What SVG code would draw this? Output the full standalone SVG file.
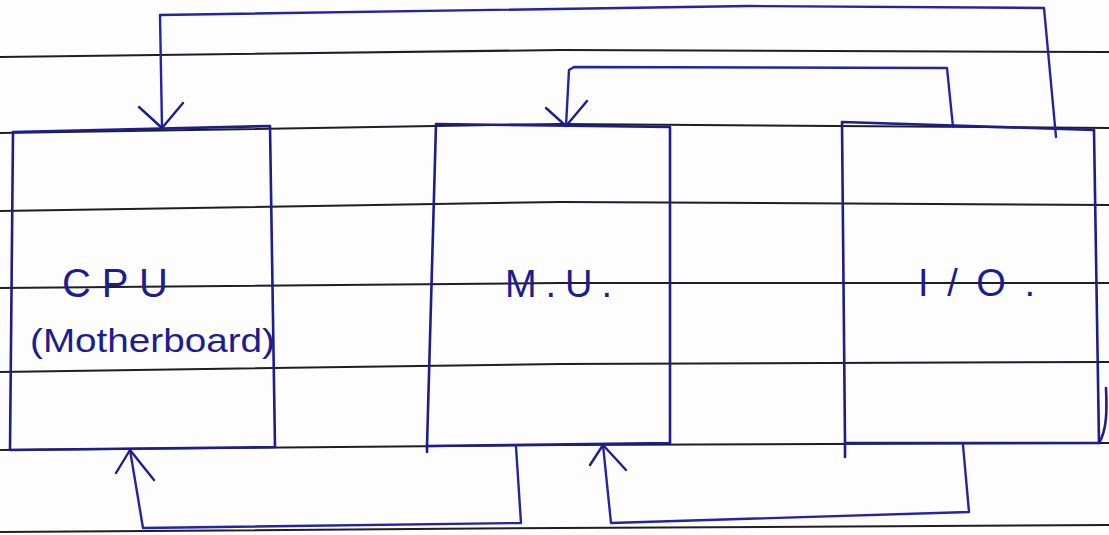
<svg xmlns="http://www.w3.org/2000/svg" width="1109" height="535" viewBox="0 0 1109 535">
<style>
.rule{fill:none;stroke:#1e1e24;stroke-width:2}
.box{fill:none;stroke:#1d1d8f;stroke-width:2.6;stroke-linejoin:round;stroke-linecap:round}
.wire{fill:none;stroke:#2323a6;stroke-width:2.4;stroke-linejoin:round;stroke-linecap:round}
.head{fill:none;stroke:#1d1d8f;stroke-width:2.4;stroke-linecap:round;stroke-linejoin:round}
.lbl{fill:#1d1d8f;font-family:"Liberation Sans",Arial,sans-serif}
</style>
<rect width="1109" height="535" fill="#fdfdfd"/>
<g id="ruled-lines">
<polyline class="rule" points="0,57 560,50 1109,52"/>
<polyline class="rule" points="0,133 560,124 1109,128"/>
<polyline class="rule" points="0,211 560,202 1109,205"/>
<polyline class="rule" points="0,288 560,283 1109,283"/>
<polyline class="rule" points="0,372 560,364 1109,362"/>
<polyline class="rule" points="0,450 560,445 1109,443"/>
<polyline class="rule" points="0,532 560,528 1109,525"/>
</g>
<g id="connectors">
<path class="wire" d="M1056,137 L1044,8 L749,6 L160,15 L162,128"/>
<path class="head" d="M139,107 L162,128 L183,103"/>
<path class="wire" d="M953,127 L947,68 L574,67 L569,70 L566,126"/>
<path class="head" d="M546,108 L566,126 L587,101"/>
<path class="wire" d="M516,447 L521,523 L143,528 L130,450"/>
<path class="head" d="M116,473 L130,450 L154,480"/>
<path class="wire" d="M963,445 L969,512 L611,523 L603,445"/>
<path class="head" d="M590,465 L603,445 L626,470"/>
</g>
<g id="cpu">
<path class="box" d="M13,132 L270,126 L275,447 L10,450 Z"/>
<text class="lbl" x="62" y="297" font-size="40" textLength="106" lengthAdjust="spacing">CPU</text>
<text class="lbl" x="30" y="352" font-size="34" textLength="245" lengthAdjust="spacingAndGlyphs">(Motherboard)</text>
</g>
<g id="mu">
<path class="box" d="M436,124 L670,127 L670,443 L427,446 Z"/>
<path class="box" d="M427,446 L427,452"/>
<text class="lbl" x="505" y="297" font-size="38" textLength="107" lengthAdjust="spacing">M.U.</text>
</g>
<g id="io">
<path class="box" d="M842,122 L1094,130 L1099,443 L845,443 Z"/>
<path class="box" d="M845,443 L845,457"/>
<path class="box" d="M1106,388 C1107,410 1107,430 1099,443"/>
<text class="lbl" x="918" y="296" font-size="38" textLength="117" lengthAdjust="spacing">I/O.</text>
</g>
</svg>
